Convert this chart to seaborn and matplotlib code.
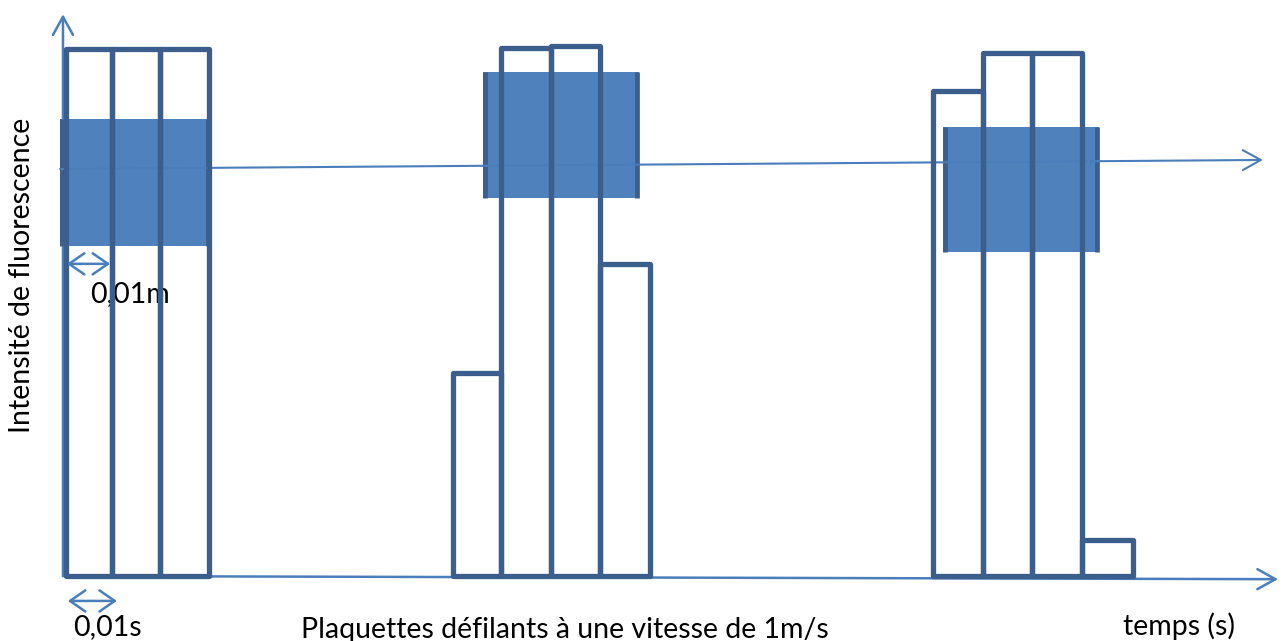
import matplotlib
matplotlib.use("Agg")
import matplotlib.pyplot as plt
import seaborn as sns

# time in ms (one bar = 0.01 s = 10 ms), fluorescence intensity in arbitrary units
bar_left = [0.6, 10.1, 20.0, 80.2, 90.1, 100.4, 110.5, 179.0, 189.3, 199.4, 209.7]
bar_width = [9.5, 9.9, 10.1, 9.9, 10.3, 10.1, 10.3, 10.3, 10.1, 10.3, 10.5]
bar_height = [99.4, 99.4, 99.4, 38.3, 99.6, 100.0, 58.9, 91.5, 98.7, 98.7, 6.8]

# platelets (filled blocks)
plat_left = [-0.6, 86.4, 181.1]
plat_right = [30.2, 118.5, 213.2]
plat_bottom = [62.3, 71.3, 61.1]
plat_top = [86.2, 95.1, 84.7]

# direction of travel
travel_t = [-0.6, 246.9]
travel_i = [76.8, 78.5]

# axes ends
yaxis_top = 106.0
xaxis_end = [250.0, -0.6]

# scale markers (0,01m and 0,01s)
scale_t0 = [0.8, 1.0]
scale_t1 = [9.7, 11.1]
scale_i = [58.9, -4.7]

sns.set_theme(style="white")
plt.rcParams["font.family"] = ["Lato", "DejaVu Sans"]

dark = "#3B5E8C"
fill = "#4F81BD"
line = "#4A7EBB"

fig = plt.figure(figsize=(12.84, 6.41), dpi=100)
ax = fig.add_axes([0, 0, 1, 1])
ax.set_xlim(-12.96, 251.23)
ax.set_ylim(-12.26, 108.68)
ax.axis("off")

head = "->,head_length=0.65,head_width=0.36"
# axes arrows
ax.annotate("", xy=(0, yaxis_top), xytext=(0, 0),
            arrowprops=dict(arrowstyle=head, color=line, lw=1.8, shrinkA=0, shrinkB=0,
                            mutation_scale=20), zorder=1)
ax.annotate("", xy=(xaxis_end[0], xaxis_end[1]), xytext=(0, 0),
            arrowprops=dict(arrowstyle=head, color=line, lw=1.8, shrinkA=0, shrinkB=0,
                            mutation_scale=20), zorder=1)

# platelets
for l, r, b, t in zip(plat_left, plat_right, plat_bottom, plat_top):
    ax.fill_between([l, r], b, t, color=fill, lw=0, zorder=2)
    ax.vlines([l + 0.45, r - 0.45], b, t, color=dark, lw=3.4, zorder=2)

# travel line
ax.annotate("", xy=(travel_t[1], travel_i[1]), xytext=(travel_t[0], travel_i[0]),
            arrowprops=dict(arrowstyle=head, color=line, lw=1.5, shrinkA=0, shrinkB=0,
                            mutation_scale=20), zorder=2.5)

# bars
ax.bar(bar_left, bar_height, width=bar_width, align="edge", fill=False,
       edgecolor=dark, linewidth=3.8, joinstyle="round", zorder=3)

# scale markers
for t0, t1, yi in zip(scale_t0, scale_t1, scale_i):
    ax.annotate("", xy=(t1, yi), xytext=(t0, yi),
                arrowprops=dict(arrowstyle="<->,head_length=0.55,head_width=0.38",
                                color=line, lw=1.8, shrinkA=0, shrinkB=0,
                                mutation_scale=20), zorder=4)

fs = 20.5
txt = dict(fontsize=fs, color="black")
ax.text(5.6, 51.7, "0,01m", va="baseline", ha="left", zorder=1, **txt)
ax.text(2.1, -11.1, "0,01s", va="baseline", ha="left", **txt)
ax.text(218.1, -11.1, "temps (s)", va="baseline", ha="left", **txt)
ax.text(103.3, -11.7, "Plaquettes défilants à une vitesse de 1m/s",
        va="baseline", ha="center", **txt)
ax.text(-8.5, 56.8, "Intensité de fluorescence", rotation=90,
        va="center", ha="center", **txt)

fig.savefig("out.png", dpi=100)
